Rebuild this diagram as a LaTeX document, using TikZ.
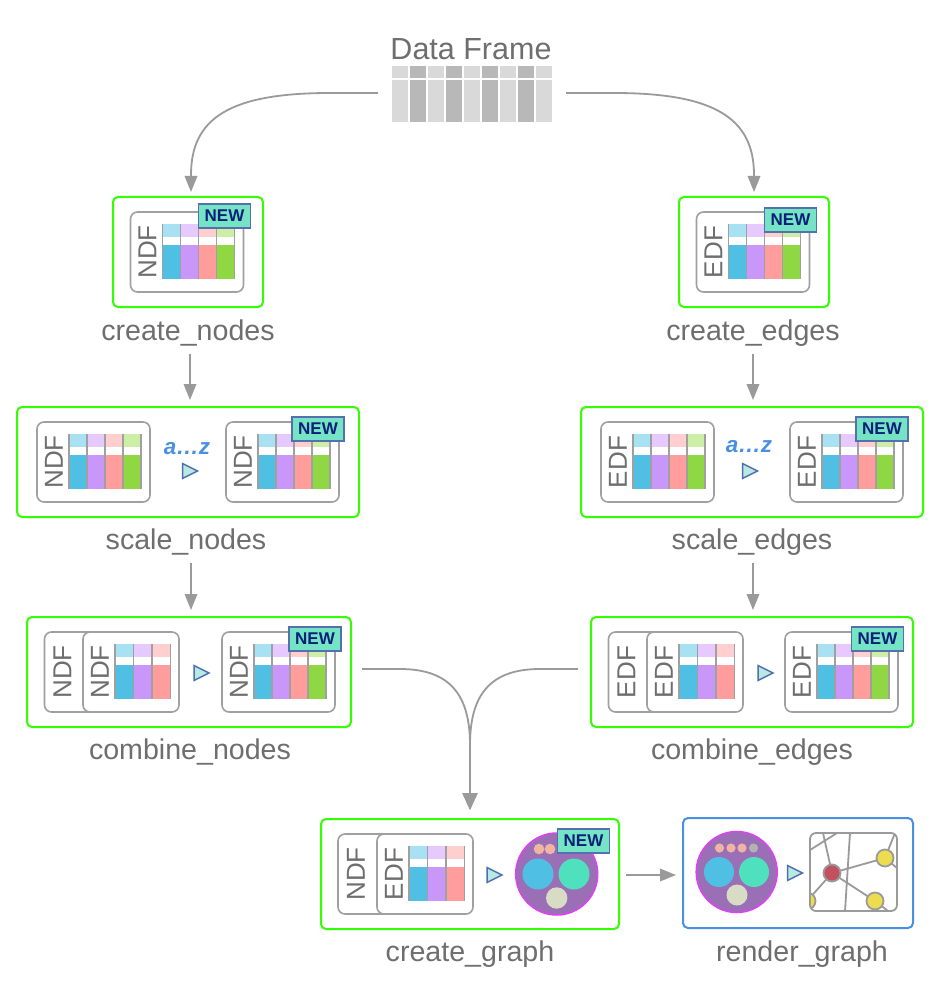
\documentclass[tikz,border=0pt]{standalone}
\usepackage{fontspec}
\setmainfont{Liberation Sans}
\usetikzlibrary{arrows.meta}
\definecolor{txt}{HTML}{6E6E6E}
\definecolor{cardline}{HTML}{A0A0A0}
\definecolor{conn}{HTML}{9A9A9A}
\definecolor{grn}{HTML}{33FF00}
\definecolor{blu}{HTML}{4A90E2}
\definecolor{ca}{HTML}{4FC0E3}\definecolor{cal}{HTML}{A8E2F2}
\definecolor{cb}{HTML}{C996F9}\definecolor{cbl}{HTML}{E6CAFF}
\definecolor{cc}{HTML}{FF9C9C}\definecolor{ccl}{HTML}{FFCFCF}
\definecolor{cd}{HTML}{90D843}\definecolor{cdl}{HTML}{CDEEA6}
\definecolor{badge}{HTML}{74E4C5}\definecolor{badgeline}{HTML}{5470B0}
\definecolor{navy}{HTML}{0B1F7A}
\definecolor{tri}{HTML}{B8EAE2}\definecolor{triline}{HTML}{4F70B0}
\definecolor{purp}{HTML}{9A6FB5}\definecolor{purpline}{HTML}{E040F5}
\definecolor{salmon}{HTML}{EFB5A2}\definecolor{teal}{HTML}{4FE0BE}
\definecolor{khaki}{HTML}{D8DCC4}\definecolor{ruby}{HTML}{C2505E}\definecolor{yel}{HTML}{EDDD4E}
\newcounter{autonode}
\tikzset{
  x=1pt,y=-1pt,
  frame/.style={draw=#1,line width=2pt,rounded corners=5pt,fill=white,inner sep=0,outer sep=0},
  steplabel/.style={text=txt,font=\fontsize{28.6}{30}\selectfont,inner sep=0,outer sep=0,text height=21pt,text depth=6pt},
  cardlabel/.style={text=txt,font=\fontsize{26}{26}\selectfont,rotate=90,inner sep=0},
  newbadge/.style={draw=badgeline,line width=1.5pt,fill=badge,text=navy,font=\bfseries\fontsize{17}{18}\selectfont,inner sep=0,outer sep=0,minimum width=52pt,minimum height=24pt},
  carddraw/.style={draw=cardline,line width=1.6pt,rounded corners=7pt,fill=white},
  conline/.style={draw=conn,line width=1.8pt,-{Triangle[length=16pt,width=12.5pt]}},
  bigtip/.style={draw=conn,line width=1.8pt,-{Triangle[length=17pt,width=15pt]}},
  trimark/.style={draw=triline,line width=1.5pt,fill=tri,line join=miter},
  azlabel/.style={text=blu,font=\bfseries\itshape\fontsize{22.5}{24}\selectfont,inner sep=0},
}
% frame: name, style colour, x1,y1,x2,y2
\newcommand{\stepframe}[6]{\pgfmathsetmacro{\fw}{#5-#3}\pgfmathsetmacro{\fh}{#6-#4}
  \node[frame=#2,minimum width=\fw pt,minimum height=\fh pt] (#1) at ({(#3+#5)/2},{(#4+#6)/2}) {};}
\newcommand{\cardbox}[3]{\draw[carddraw] (#1,#2) rectangle ++(#3,80);}
\newcommand{\cardtext}[3]{\stepcounter{autonode}\node[cardlabel] (lab\theautonode) at (#1,#2+40) {#3};}
\newcommand{\onecol}[5]{%
  \fill[#5] (#1,#2) rectangle ++(#3,13);
  \fill[#4] (#1,#2+21) rectangle ++(#3,34);}
\newcommand{\cols}[4]{%
  \pgfmathsetmacro{\ya}{#2+12}
  \pgfmathsetmacro{\xb}{#1+#3}\pgfmathsetmacro{\xc}{#1+2*#3}\pgfmathsetmacro{\xd}{#1+3*#3}
  \onecol{#1}{\ya}{#3}{ca}{cal}\onecol{\xb}{\ya}{#3}{cb}{cbl}\onecol{\xc}{\ya}{#3}{cc}{ccl}
  \ifnum#4>3 \onecol{\xd}{\ya}{#3}{cd}{cdl}\fi
  \foreach \sx in {0,...,#4}{\draw[cardline,line width=1.9pt] ({#1+\sx*#3},\ya) -- ++(0,55);}
}
\newcommand{\newtag}[2]{\stepcounter{autonode}\node[newbadge] (new\theautonode) at (#1,#2) {NEW};}
\newcommand{\trimk}[2]{\draw[trimark] (#1,#2) -- ++(0,15) -- ++(15,-7.5) -- cycle;}
\newcommand{\fullcard}[3]{\cardbox{#1}{#2}{113}\pgfmathsetmacro{\lx}{#1+17}\cardtext{\lx}{#2}{#3}\pgfmathsetmacro{\kx}{#1+32}\cols{\kx}{#2}{18}{4}}
\newcommand{\dblcard}[5]{\cardbox{#1}{#3}{60}\pgfmathsetmacro{\lx}{#1+18}\cardtext{\lx}{#3}{#4}
  \cardbox{#2}{#3}{96}\pgfmathsetmacro{\lx}{#2+17}\cardtext{\lx}{#3}{#5}\pgfmathsetmacro{\kx}{#2+32}\cols{\kx}{#3}{18.5}{3}}
\begin{document}
\begin{tikzpicture}
\useasboundingbox (0,0) rectangle (940,1000);
\fill[white] (0,0) rectangle (940,1000);

% Data frame
\node[text=txt,font=\fontsize{30.5}{32}\selectfont,inner sep=0] (dftitle) at (471,49) {Data Frame};
\node[minimum width=188pt,minimum height=56pt,inner sep=0,outer sep=0] (df) at (472,93) {};
\foreach \i in {0,...,8}{
  \pgfmathtruncatemacro{\odd}{mod(\i,2)}
  \ifnum\odd=0 \def\cc{black!15}\else\def\cc{black!28}\fi
  \fill[\cc] ({392+\i*18},66) rectangle ++(16,12);
  \fill[\cc] ({392+\i*18},80) rectangle ++(16,42);
}

% Frames
\stepframe{cn}{grn}{113}{197}{263}{307}
\stepframe{ce}{grn}{679}{197}{829}{307}
\stepframe{sn}{grn}{17}{407}{359}{517}
\stepframe{se}{grn}{581}{407}{923}{517}
\stepframe{bn}{grn}{27}{617}{351}{727}
\stepframe{be}{grn}{591}{617}{913}{727}
\stepframe{cg}{grn}{321}{819}{619}{929}
\stepframe{rg}{blu}{683}{818}{913}{928}

% Step labels
\node[steplabel] (lcn) at (188,333) {create\_nodes};
\node[steplabel] (lce) at (753,333) {create\_edges};
\node[steplabel] (lsn) at (186,542) {scale\_nodes};
\node[steplabel] (lse) at (752,542) {scale\_edges};
\node[steplabel] (lbn) at (190,752) {combine\_nodes};
\node[steplabel] (lbe) at (752,752) {combine\_edges};
\node[steplabel] (lcg) at (470,954) {create\_graph};
\node[steplabel] (lrg) at (802,954) {render\_graph};

% create
\fullcard{130.5}{212}{NDF}\newtag{224.5}{216}
\fullcard{696.5}{212}{EDF}\newtag{790.5}{220}
% scale nodes
\fullcard{37}{422}{NDF}
\node[azlabel] (az1) at (187,449) {a…z};
\trimk{182.5}{463.5}
\fullcard{226}{422}{NDF}\newtag{318}{429}
% scale edges
\fullcard{601}{422}{EDF}
\node[azlabel] (az2) at (749,447) {a…z};
\trimk{742.5}{463.5}
\fullcard{790}{422}{EDF}\newtag{882}{429}
% combine nodes
\dblcard{44.5}{83}{632}{NDF}{NDF}
\trimk{194}{665.5}
\fullcard{222}{632}{NDF}\newtag{315}{639}
% combine edges
\dblcard{608.5}{647}{632}{EDF}{EDF}
\trimk{758}{665.5}
\fullcard{785}{632}{EDF}\newtag{877.5}{639}
% create graph
\dblcard{338}{377}{834}{NDF}{EDF}
\trimk{487}{867.5}
\draw[purpline,line width=1.5pt,fill=purp] (556.7,874) circle[radius=41];
\fill[salmon] (539,849) circle[radius=5.3] (550,849) circle[radius=5.3];
\fill[ca] (538,874) circle[radius=15.5];
\fill[teal] (574,874) circle[radius=15.5];
\fill[khaki] (556.7,898) circle[radius=10.7];
\newtag{583.5}{841}
% render graph
\draw[purpline,line width=1.5pt,fill=purp] (736.7,872) circle[radius=40.5];
\fill[salmon] (719.5,848) circle[radius=4.6] (731,848) circle[radius=4.6] (742,848) circle[radius=4.6];
\fill[black!30] (753.5,848) circle[radius=4.6];
\fill[ca] (719,872) circle[radius=15];
\fill[teal] (754,872) circle[radius=15];
\fill[khaki] (737,895) circle[radius=10.5];
\trimk{787.5}{865.5}
\begin{scope}
  \clip[rounded corners=6pt] (810,833) rectangle (897,911);
  \draw[conn,line width=1.8pt] (832,873) -- (885,858) (832,873) -- (875,901) (832,873) -- (807,901)
    (832,873) -- (823,833) (810,850) -- (837,833) (850,833) -- (845,911)
    (885,858) -- (895,833) (885,858) -- (897,868) (875,901) -- (888,911);
  \draw[conn,fill=yel,line width=1.8pt] (885,858) circle[radius=8.5] (875,901) circle[radius=8.5] (807,901) circle[radius=8.5];
  \draw[conn,fill=ruby,line width=1.8pt] (832,873) circle[radius=8.5];
\end{scope}
\draw[conn,line width=1.8pt,rounded corners=6pt] (810,833) rectangle (897,911);

% Connectors
\draw[conline,shorten >=5pt] (df.west) -- (330,93) .. controls (230,93) and (191,118) .. (191,175) -- ([xshift=3pt]cn.north);
\draw[conline,shorten >=5pt] (df.east) -- (614,93) .. controls (714,93) and (754,118) .. (754,175) -- (ce.north);
\draw[conline,shorten <=7pt,shorten >=7pt] ([xshift=2pt]lcn.south) -- ([xshift=2pt]sn.north);
\draw[conline,shorten <=7pt,shorten >=7pt] (lce.south) -- ([xshift=1pt]se.north);
\draw[conline,shorten <=7pt,shorten >=7pt] ([xshift=5pt]lsn.south) -- ([xshift=2pt]bn.north);
\draw[conline,shorten <=7pt,shorten >=7pt] ([xshift=1pt]lse.south) -- ([xshift=1pt]be.north);
\draw[bigtip,shorten <=11pt,shorten >=9pt] ([yshift=3pt]bn.east) -- (400,669) .. controls (450,669) and (470,695) .. (470,745) -- (cg.north);
\draw[bigtip,shorten <=13pt,shorten >=9pt] ([yshift=3pt]be.west) -- (540,669) .. controls (490,669) and (470,695) .. (470,745) -- (cg.north);
\draw[conline,shorten <=7pt,shorten >=7pt] ([yshift=-1pt]cg.east) -- ([yshift=-2pt]rg.west);
\end{tikzpicture}
\end{document}
